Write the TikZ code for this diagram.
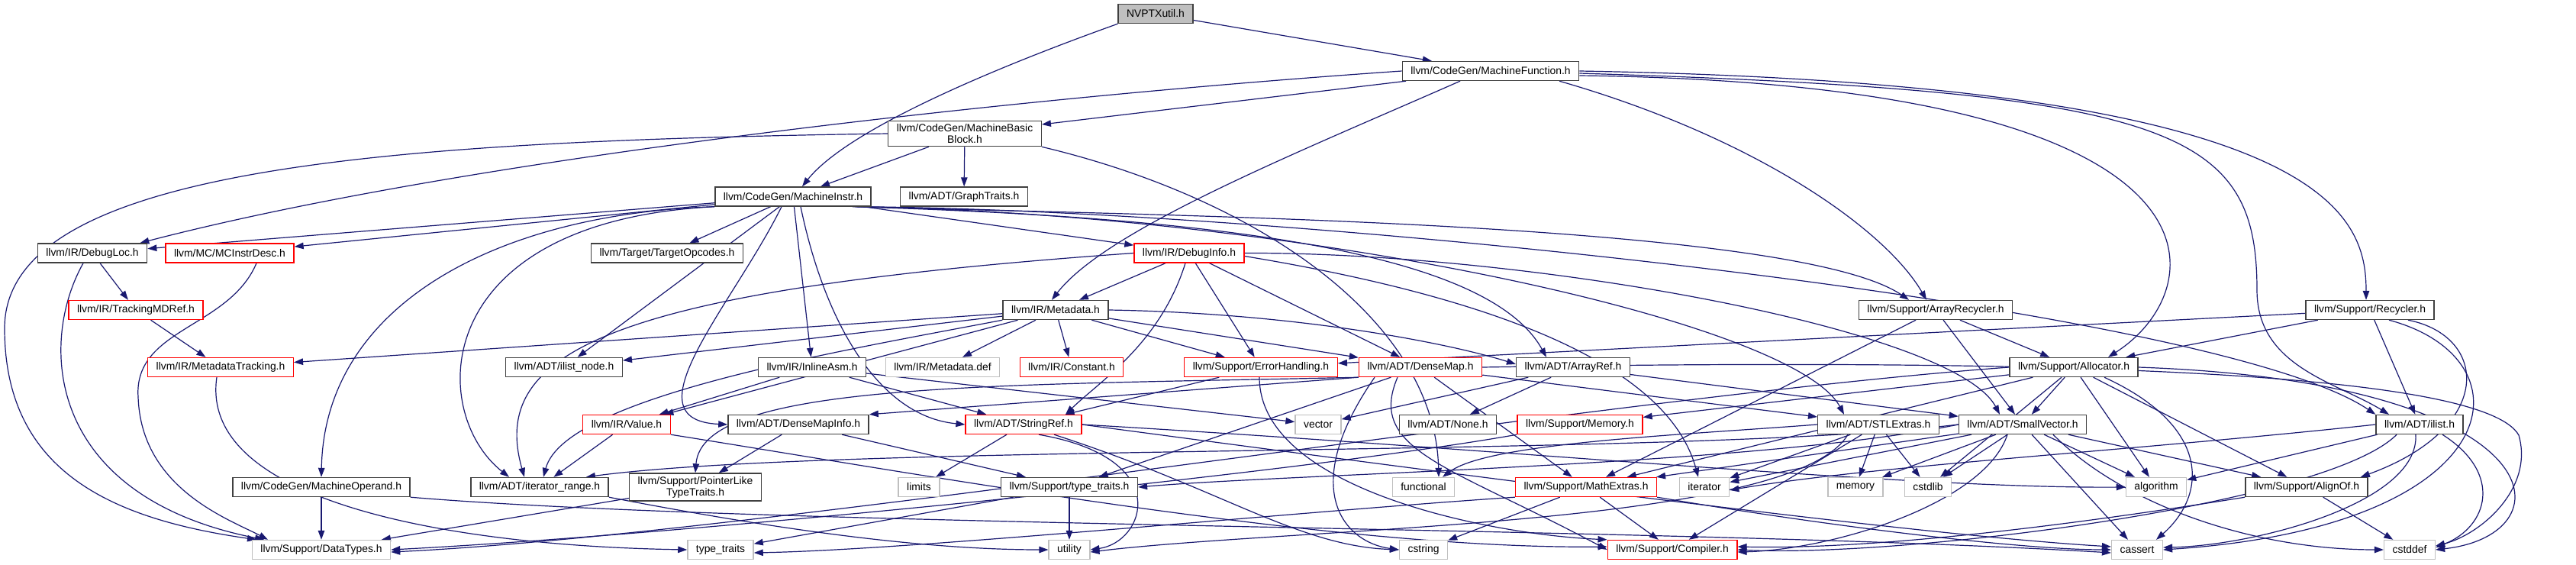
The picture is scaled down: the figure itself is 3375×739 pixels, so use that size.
\documentclass[tikz,border=0pt]{standalone}
\usepackage{fontspec}
\setmainfont{Liberation Sans}
\usetikzlibrary{arrows.meta}
\definecolor{mblue}{HTML}{191970}
\pgfdeclarelayer{bg}
\pgfsetlayers{bg,main}
\tikzset{
 nd/.style={draw=black!75, line width=1.4pt, fill=white, inner xsep=11pt, inner ysep=4pt, minimum height=25pt, align=center, font=\fontsize{13.9pt}{15pt}\selectfont},
 rd/.style={nd, draw=red},
 gn/.style={nd, draw=black!25},
 e/.style={draw=mblue, line width=1.2pt, -{Triangle[length=12pt,width=8.5pt]}},
}
\begin{document}
\begin{tikzpicture}[x=1pt,y=-1pt]
\useasboundingbox (0,0) rectangle (3375,739);
\node[nd, fill=black!25] (nvptx) at (1514,18) {NVPTXutil.h};
\node[nd] (mf) at (1953,93) {llvm/CodeGen/MachineFunction.h};
\node[nd] (mbb) at (1264,175) {llvm/CodeGen/MachineBasic\\Block.h};
\node[nd] (mi) at (1039,257.5) {llvm/CodeGen/MachineInstr.h};
\node[nd] (gt) at (1263,257.5) {llvm/ADT/GraphTraits.h};
\node[nd] (dl) at (121,331.5) {llvm/IR/DebugLoc.h};
\node[rd] (mcid) at (301,331.5) {llvm/MC/MCInstrDesc.h};
\node[nd] (to) at (874,331.5) {llvm/Target/TargetOpcodes.h};
\node[rd] (di) at (1558,331.5) {llvm/IR/DebugInfo.h};
\node[nd] (ar) at (2536,406) {llvm/Support/ArrayRecycler.h};
\node[nd] (rec) at (3105,406) {llvm/Support/Recycler.h};
\node[rd] (tmd) at (178,406) {llvm/IR/TrackingMDRef.h};
\node[nd] (md) at (1383,406) {llvm/IR/Metadata.h};
\node[rd] (mdt) at (289,481) {llvm/IR/MetadataTracking.h};
\node[nd] (iln) at (739,481) {llvm/ADT/ilist\_node.h};
\node[nd] (ia) at (1064,481) {llvm/IR/InlineAsm.h};
\node[gn] (mddef) at (1235,481) {llvm/IR/Metadata.def};
\node[rd] (const) at (1404,481) {llvm/IR/Constant.h};
\node[rd] (eh) at (1652,481) {llvm/Support/ErrorHandling.h};
\node[rd] (dm) at (1861,481) {llvm/ADT/DenseMap.h};
\node[nd] (aref) at (2061,481) {llvm/ADT/ArrayRef.h};
\node[nd] (alloc) at (2717,481) {llvm/Support/Allocator.h};
\node[rd] (val) at (821,556) {llvm/IR/Value.h};
\node[nd] (dmi) at (1046,556) {llvm/ADT/DenseMapInfo.h};
\node[rd] (sref) at (1341,556) {llvm/ADT/StringRef.h};
\node[gn] (vec) at (1727,556) {vector};
\node[nd] (none) at (1897,556) {llvm/ADT/None.h};
\node[rd] (mem) at (2070,556) {llvm/Support/Memory.h};
\node[nd] (stl) at (2461,556) {llvm/ADT/STLExtras.h};
\node[nd] (sv) at (2650,556) {llvm/ADT/SmallVector.h};
\node[nd] (ilist) at (3170,556) {llvm/ADT/ilist.h};
\node[nd] (mo) at (421,638) {llvm/CodeGen/MachineOperand.h};
\node[nd] (ir) at (707,638) {llvm/ADT/iterator\_range.h};
\node[nd] (plt) at (911,638) {llvm/Support/PointerLike\\TypeTraits.h};
\node[gn] (lim) at (1204,638) {limits};
\node[nd] (tt) at (1401,638) {llvm/Support/type\_traits.h};
\node[gn] (func) at (1865,638) {functional};
\node[rd] (mex) at (2078,638) {llvm/Support/MathExtras.h};
\node[gn] (iter) at (2233,638) {iterator};
\node[gn] (memory) at (2431,638) {memory};
\node[gn] (cstdlib) at (2526,638) {cstdlib};
\node[gn] (algo) at (2825,638) {algorithm};
\node[nd] (align) at (3022,638) {llvm/Support/AlignOf.h};
\node[gn] (dt) at (421,720) {llvm/Support/DataTypes.h};
\node[gn] (stt) at (944,720) {type\_traits};
\node[gn] (util) at (1401,720) {utility};
\node[gn] (cstring) at (1865,720) {cstring};
\node[rd] (comp) at (2191,720) {llvm/Support/Compiler.h};
\node[gn] (cassert) at (2800,720) {cassert};
\node[gn] (cstddef) at (3157,720) {cstddef};
\coordinate (w1) at (2957,380);
\coordinate (w2) at (6,430);
\coordinate (w3) at (181,520);
\coordinate (w4) at (3300,570);
\begin{pgfonlayer}{bg}
% NVPTXutil.h
\draw[e] (nvptx) -- (mf);
\draw[e] (nvptx.south west) .. controls (1300,90) and (1110,170) .. ([xshift=12pt]mi.north);
% MachineFunction.h
\draw[e] (mf) -- (mbb);
\draw[e] (mf.west) .. controls (1300,130) and (600,210) .. ([xshift=-10pt]dl.north east);
\draw[e] ([xshift=-40pt]mf.south) .. controls (1700,200) and (1450,300) .. ([xshift=-5pt]md.north);
\draw[e] ([xshift=90pt]mf.south) .. controls (2300,180) and (2470,300) .. ([xshift=-12pt]ar.north);
\draw[e] ([yshift=-6pt]mf.east) .. controls (2950,110) and (2900,380) .. ([xshift=45pt]alloc.north);
\draw[e] (mf.east) .. controls (3050,110) and (3100,280) .. ([xshift=-5pt]rec.north);
\draw[e] ([yshift=-3pt]mf.east) .. controls (2850,120) and (2957,170) .. (w1) .. controls (2957,480) and (3060,500) .. ([xshift=-40pt]ilist.north);
% MachineBasicBlock.h
\draw[e] (mbb) -- (mi);
\draw[e] (mbb) -- (gt);
\draw[e] (mbb.west) .. controls (500,185) and (6,220) .. (w2) .. controls (6,620) and (150,680) .. ([xshift=-85pt]dt.north);
\draw[e] (mbb.south east) .. controls (1650,260) and (1880,420) .. ([xshift=20pt]func.north);
% MachineInstr.h
\draw[e] (mi) -- (dl);
\draw[e] (mi) -- (mcid);
\draw[e] (mi) -- (to);
\draw[e] (mi) -- (di);
\draw[e] (mi) -- (ia);
\draw[e] (mi) -- (iln);
\draw[e] (mi.south west) .. controls (650,280) and (425,400) .. (mo.north);
\draw[e] (mi.south west) .. controls (560,290) and (560,540) .. ([xshift=-40pt]ir.north);
\draw[e] ([xshift=-15pt]mi.south) .. controls (960,400) and (820,550) .. (dmi.west);
\draw[e] ([xshift=10pt]mi.south) .. controls (1080,420) and (1150,545) .. (sref.west);
\draw[e] ([xshift=-25pt]mi.south east) .. controls (1600,285) and (1950,330) .. ([xshift=-35pt]aref.north);
\draw[e] ([xshift=-20pt]mi.south east) .. controls (1500,282) and (2350,290) .. ([xshift=-35pt]ar.north);
\draw[e] ([xshift=-22pt]mi.south east) .. controls (1700,280) and (2350,420) .. ([xshift=-45pt]stl.north);
\draw[e] ([xshift=-18pt]mi.south east) .. controls (1700,275) and (2900,400) .. (ilist.north west);
% DebugLoc.h, MCInstrDesc.h, TrackingMDRef.h, MetadataTracking.h
\draw[e] (dl) -- (tmd);
\draw[e] ([xshift=-12pt]dl.south) .. controls (50,450) and (60,650) .. ([xshift=-75pt]dt.north);
\draw[e] ([xshift=35pt]mcid.south) .. controls (300,430) and (175,430) .. (w3) .. controls (185,640) and (300,680) .. ([xshift=-70pt]dt.north);
\draw[e] (tmd) -- (mdt);
\draw[e] ([xshift=-5pt]mdt.south) .. controls (260,660) and (600,715) .. (stt.west);
% DebugInfo.h
\draw[e] (di) -- (md);
\draw[e] (di) -- (eh);
\draw[e] (di) -- (dm);
\draw[e] ([xshift=-5pt]di.south) .. controls (1520,450) and (1440,500) .. ([xshift=55pt]sref.north);
\draw[e] (di.west) .. controls (800,380) and (640,460) .. ([xshift=-20pt]ir.north);
\draw[e] (di.east) .. controls (2000,330) and (2560,430) .. ([xshift=-30pt]sv.north);
\draw[e] ([yshift=-4pt]di.east) .. controls (1900,380) and (2180,460) .. ([xshift=-8pt]iter.north);
% Metadata.h
\draw[e] (md) -- (mdt);
\draw[e] (md) -- (iln);
\draw[e] (md.south west) .. controls (1100,460) and (740,520) .. ([xshift=5pt]ir.north);
\draw[e] (md) -- (val);
\draw[e] (md) -- (mddef);
\draw[e] (md) -- (const);
\draw[e] (md) -- (eh);
\draw[e] (md) -- (dm);
\draw[e] (md.east) .. controls (1700,410) and (1900,450) .. ([yshift=4pt]aref.west);
% ArrayRecycler.h, Recycler.h
\draw[e] (ar) -- (alloc);
\draw[e] (ar) -- (sv);
\draw[e] (ar) -- (mex);
\draw[e] (rec) -- (alloc);
\draw[e] (rec) -- (eh);
\draw[e] (rec) -- (ilist);
\draw[e] ([xshift=50pt]rec.south) .. controls (3260,440) and (3270,560) .. ([xshift=-10pt]align.north east);
\draw[e] ([xshift=25pt]rec.south) .. controls (3320,470) and (3290,690) .. (cassert.east);
% InlineAsm.h, ErrorHandling.h
\draw[e] (ia) -- (val);
\draw[e] (ia) -- (sref);
\draw[e] (ia) -- (vec);
\draw[e] (eh) -- (sref);
\draw[e] ([xshift=-2pt]eh.south) .. controls (1650,640) and (1950,700) .. (comp.north west);
% DenseMap.h
\draw[e] (dm.south west) -- (dmi.north east);
\draw[e] (dm.south west) .. controls (1300,505) and (920,500) .. (plt.north);
\draw[e] (dm) -- (tt);
\draw[e] (dm) -- (stl);
\draw[e] (dm) -- (mex);
\draw[e] ([xshift=-30pt]dm.south) .. controls (1790,590) and (1900,610) .. (comp.west);
\draw[e] ([xshift=-60pt]dm.south) .. controls (1700,640) and (1760,710) .. (cstring.west);
\draw[e] (dm.east) .. controls (2600,470) and (3250,480) .. (w4) .. controls (3320,640) and (3250,700) .. ([yshift=5pt]cstddef.east);
% ArrayRef.h
\draw[e] (aref) -- (none);
\draw[e] (aref) -- (sv);
\draw[e] (aref) -- (vec);
% Allocator.h
\draw[e] (alloc) -- (sv);
\draw[e] (alloc) -- (align);
\draw[e] (alloc.west) .. controls (2100,520) and (1000,700) .. ([yshift=-3pt]dt.east);
\draw[e] (alloc) -- (mex);
\draw[e] (alloc) -- (mem);
\draw[e] (alloc) -- (algo);
\draw[e] ([xshift=40pt]alloc.south) .. controls (2900,560) and (2890,650) .. ([xshift=25pt]cassert.north);
\draw[e] (alloc.east) .. controls (3350,500) and (3370,700) .. (cstddef.east);
\draw[e] (alloc) -- (cstdlib);
% Value.h, DenseMapInfo.h, StringRef.h
\draw[e] (val) -- (ir);
\draw[e] (val.south east) .. controls (1200,620) and (1750,720) .. ([yshift=4pt]comp.west);
\draw[e] (dmi) -- (plt);
\draw[e] (dmi) -- (tt);
\draw[e] (sref) -- (lim);
\draw[e] ([xshift=20pt]sref.south) .. controls (1540,600) and (1500,710) .. (util.east);
\draw[e] (sref.east) .. controls (2000,590) and (2500,640) .. (algo.west);
\draw[e] (sref.east) .. controls (1900,620) and (2500,700) .. ([yshift=4pt]cassert.west);
\draw[e] ([xshift=40pt]sref.south) .. controls (1600,640) and (1700,715) .. (cstring.west);
% STLExtras.h
\draw[e] (stl.west) .. controls (2200,570) and (1950,580) .. ([xshift=25pt]func.north);
\draw[e] (stl) -- (iter);
\draw[e] (stl) -- (memory);
\draw[e] (stl) -- (cstdlib);
\draw[e] (stl) -- (comp);
\draw[e] ([xshift=-40pt]stl.south) .. controls (2350,690) and (1700,690) .. ([yshift=-3pt]util.east);
% SmallVector.h
\draw[e] (sv.west) .. controls (2200,600) and (1100,580) .. ([xshift=-30pt]ir.north east);
\draw[e] (sv) -- (align);
\draw[e] ([xshift=-20pt]sv.south) .. controls (2600,660) and (2400,720) .. ([yshift=-3pt]comp.east);
\draw[e] (sv) -- (mex);
\draw[e] (sv.west) .. controls (2300,610) and (1700,620) .. (tt.east);
\draw[e] (sv) -- (algo);
\draw[e] (sv) -- (cassert);
\draw[e] ([xshift=40pt]sv.south) .. controls (2780,660) and (2950,720) .. (cstddef.west);
\draw[e] (sv) -- (cstdlib);
\draw[e] (sv) -- (iter);
\draw[e] (sv) -- (memory);
% ilist.h
\draw[e] (ilist) -- (algo);
\draw[e] ([xshift=-5pt]ilist.south) .. controls (3170,660) and (2950,715) .. ([yshift=3pt]cassert.east);
\draw[e] ([xshift=30pt]ilist.south) .. controls (3280,620) and (3260,690) .. ([yshift=3pt]cstddef.east);
\draw[e] (ilist.west) .. controls (2800,590) and (2450,610) .. ([yshift=-4pt]iter.east);
\draw[e] ([xshift=-30pt]ilist.south) .. controls (3050,660) and (2500,730) .. (comp.east);
% lower rows
\draw[e] (mo) -- (dt);
\draw[e] (mo.south east) .. controls (1000,690) and (2200,690) .. ([yshift=-4pt]cassert.west);
\draw[e] (ir.south east) .. controls (1000,690) and (1200,720) .. (util.west);
\draw[e] (plt) -- (dt);
\draw[e] (tt) -- (util);
\draw[e] (tt) -- (stt);
\draw[e] (mex) -- (comp);
\draw[e] (mex) -- (cstring);
\draw[e] (mex.south east) .. controls (2400,690) and (2650,720) .. (cassert.west);
\draw[e] (mex.south west) .. controls (1700,670) and (1200,720) .. ([yshift=-4pt]stt.east);
\draw[e] (mem.south west) .. controls (1700,620) and (900,700) .. (dt.east);
\draw[e] (align.south west) .. controls (2700,690) and (2450,720) .. ([yshift=4pt]comp.east);
\draw[e] (align) -- (cstddef);
\end{pgfonlayer}
\end{tikzpicture}
\end{document}
